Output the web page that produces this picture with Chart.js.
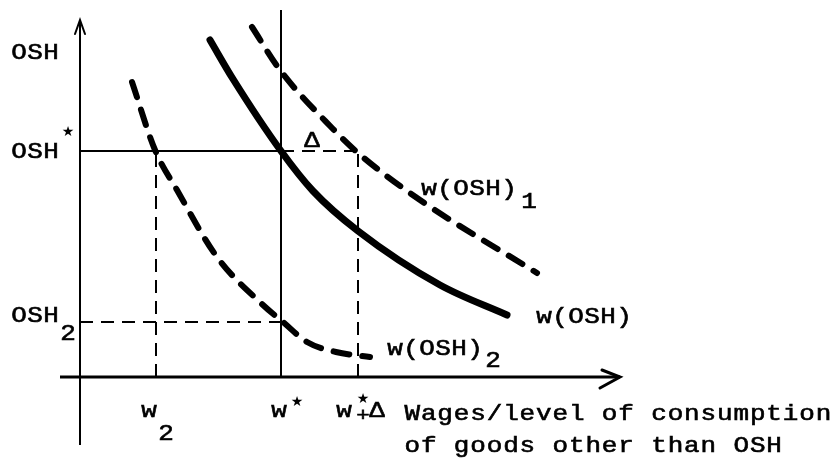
<!DOCTYPE html>
<html>
<head>
<meta charset="utf-8">
<script src="https://cdn.jsdelivr.net/npm/chart.js@4.4.1/dist/chart.umd.min.js"></script>
<style>
  html, body { margin: 0; padding: 0; background: #fff; }
  canvas { display: block; }
</style>
</head>
<body>
<canvas id="chart" width="838" height="464"></canvas>
<script>
// key levels on the axes
const wStar = 10.05;
const w2 = 3.8;
const wDelta = 13.9;
const oshStar = 11.3;
const osh2 = 2.75;

// w(OSH) - thick solid curve
const wOshX = [6.5, 7.65, 10.05, 11.65, 13.9, 18, 21.35];
const wOshY = [16.85, 14.9, 11.3, 9.3, 7.3, 4.6, 3.1];
// w(OSH)1 - dashed, to the right
const wOsh1X = [8.6, 10, 12.65, 13.9, 17, 22.85];
const wOsh1Y = [17.5, 15.35, 12.4, 11.2, 8.85, 5.2];
// w(OSH)2 - dashed, to the left
const wOsh2X = [2.6, 3.75, 4.85, 6.85, 9.15, 10.15, 11.35, 12.8, 14.5];
const wOsh2Y = [14.75, 11.35, 9.35, 6, 3.6, 2.75, 1.75, 1.25, 1.0];

// axis extents
const xAxisRange = [-1, 27];
const yAxisRange = [-3.4, 17.85];
const wStarTop = 18.35;

const toPoints = (xs, ys) => xs.map((x, i) => ({ x: x, y: ys[i] }));

function line(data, width, dash) {
    return {
        data: data,
        showLine: true,
        borderColor: '#000',
        borderWidth: width,
        borderDash: dash || [],
        borderCapStyle: 'butt',
        pointRadius: 0,
        fill: false
    };
}

function curve(data, width, dash) {
    const ds = line(data, width, dash);
    ds.cubicInterpolationMode = 'monotone';
    ds.borderCapStyle = 'round';
    return ds;
}

const FONT = '22px "Liberation Mono", "DejaVu Sans Mono", monospace';

// typewriter style: one glyph per fixed cell, a bit wider than the font
function mono(ctx, text, x, y, pitch, size) {
    pitch = pitch || 16;
    ctx.font = size ? size + 'px "Liberation Mono", monospace' : FONT;
    ctx.textAlign = 'center';
    ctx.textBaseline = 'alphabetic';
    for (let i = 0; i < text.length; i++) {
        ctx.save();
        ctx.translate(x + i * pitch + pitch / 2, y);
        ctx.scale(1.18, 1);
        ctx.fillText(text[i], 0, 0);
        ctx.strokeText(text[i], 0, 0);
        ctx.restore();
    }
}

function star(ctx, x, y) {
    ctx.font = '14px "DejaVu Sans"';
    ctx.textAlign = 'center';
    ctx.textBaseline = 'middle';
    ctx.fillText('\u2605', x, y);
}

const annotations = {
    id: 'annotations',
    afterDatasetsDraw(chart) {
        const ctx = chart.ctx;
        const sx = chart.scales.x, sy = chart.scales.y;
        const px = v => sx.getPixelForValue(v);
        const py = v => sy.getPixelForValue(v);
        const x0 = px(0), y0 = py(0);

        ctx.save();
        ctx.strokeStyle = '#000';
        ctx.fillStyle = '#000';
        ctx.lineCap = 'round';

        // arrow heads
        const yTip = py(yAxisRange[1]);
        ctx.lineWidth = 2;
        ctx.beginPath();
        ctx.moveTo(x0 - 5, yTip + 14);
        ctx.lineTo(x0, yTip);
        ctx.lineTo(x0 + 5, yTip + 14);
        ctx.stroke();

        const xTip = px(xAxisRange[1]);
        ctx.lineWidth = 3;
        ctx.beginPath();
        ctx.moveTo(xTip - 18, y0 - 7);
        ctx.lineTo(xTip, y0);
        ctx.lineTo(xTip - 20, y0 + 11);
        ctx.stroke();

        ctx.lineWidth = 0.6;

        // y labels
        mono(ctx, 'OSH', x0 - 69, yTip + 39);
        mono(ctx, 'OSH', x0 - 69, py(oshStar) + 7);
        star(ctx, x0 - 12, py(oshStar) - 19);
        mono(ctx, 'OSH', x0 - 69, py(osh2));
        mono(ctx, '2', x0 - 20, py(osh2) + 18);

        // x labels
        const base = y0 + 40;
        mono(ctx, 'w', px(w2) - 15, base);
        mono(ctx, '2', px(w2) + 2, base + 23);
        mono(ctx, 'w', px(wStar) - 10, base);
        star(ctx, px(wStar) + 16, base - 15);
        mono(ctx, 'w', px(wDelta) - 22, base);
        mono(ctx, '+', px(wDelta) - 2, base + 4, 14, 19);
        mono(ctx, '\u0394', px(wDelta) + 11, base);
        star(ctx, px(wDelta) + 5, base - 18);

        const tx = px(wDelta) + 46;
        mono(ctx, 'Wages/level of consumption', tx, base + 3, 16.45);
        mono(ctx, 'of goods other than OSH', tx, base + 35, 16.45);

        // delta between curves
        mono(ctx, '\u0394', px(wStar) + 23, py(oshStar) - 4);

        // curve labels
        const l1x = px(wOsh1X[4]) + 1, l1y = py(wOsh1Y[4]) - 5;
        mono(ctx, 'w(OSH)', l1x, l1y);
        mono(ctx, '1', l1x + 100, l1y + 13);

        const n = wOshX.length - 1;
        mono(ctx, 'w(OSH)', px(wOshX[n]) + 29, py(wOshY[n]) + 8);

        const m = wOsh2X.length - 1;
        const l2x = px(wOsh2X[m]) + 17, l2y = py(wOsh2Y[m]) - 2;
        mono(ctx, 'w(OSH)', l2x, l2y);
        mono(ctx, '2', l2x + 98, l2y + 12);

        ctx.restore();
    }
};

new Chart(document.getElementById('chart'), {
    type: 'scatter',
    data: {
        datasets: [
            // axes
            line([{ x: xAxisRange[0], y: 0 }, { x: xAxisRange[1], y: 0 }], 3),
            line([{ x: 0, y: yAxisRange[0] }, { x: 0, y: yAxisRange[1] }], 2),
            // w* vertical and OSH* horizontal
            line([{ x: wStar, y: 0 }, { x: wStar, y: wStarTop }], 2),
            line([{ x: 0, y: oshStar }, { x: wStar, y: oshStar }], 2),
            // dashed guides
            line([{ x: wStar, y: oshStar }, { x: wDelta, y: oshStar }], 2, [13, 8]),
            line([{ x: wDelta, y: 0 }, { x: wDelta, y: oshStar }], 2, [13, 8]),
            line([{ x: w2, y: 0 }, { x: w2, y: oshStar }], 2, [13, 8]),
            line([{ x: 0, y: osh2 }, { x: wStar, y: osh2 }], 2, [13, 8]),
            // curves
            curve(toPoints(wOshX, wOshY), 7),
            curve(toPoints(wOsh1X, wOsh1Y), 6, [16, 13]),
            curve(toPoints(wOsh2X, wOsh2Y), 6, [16, 13])
        ]
    },
    options: {
        responsive: false,
        animation: false,
        layout: { padding: 0 },
        plugins: {
            legend: { display: false },
            tooltip: { enabled: false }
        },
        scales: {
            x: { type: 'linear', min: -4, max: 37.9, display: false },
            y: { type: 'linear', min: -4.35, max: 18.85, display: false }
        }
    },
    plugins: [annotations]
});
</script>
</body>
</html>
